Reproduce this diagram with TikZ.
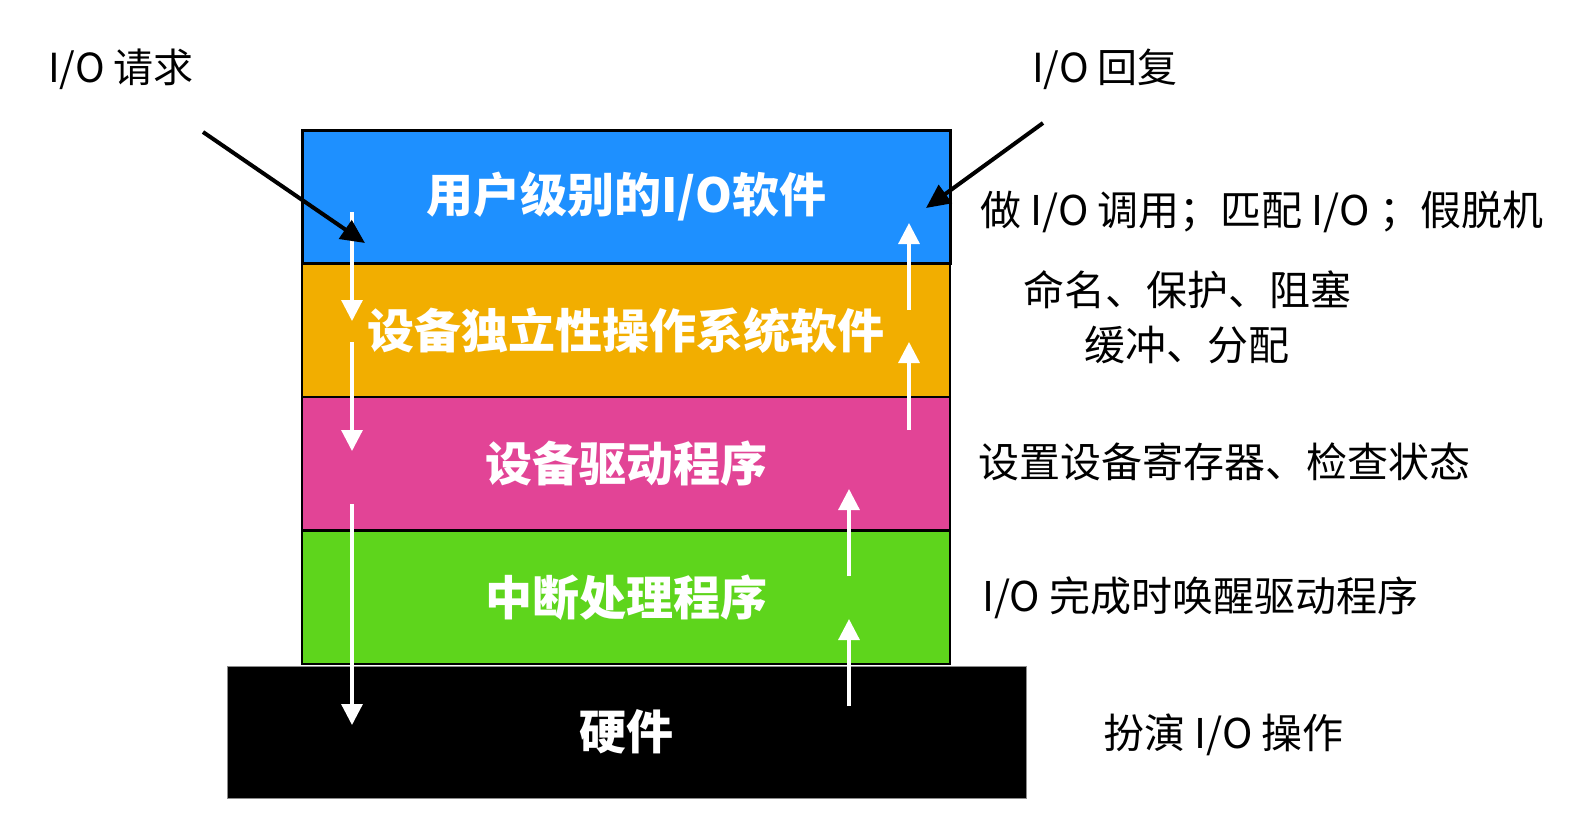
\documentclass[tikz,border=0pt]{standalone}
\usepackage{fontspec}
\setmainfont{Noto Sans CJK SC}
\usetikzlibrary{arrows.meta}
\definecolor{cblue}{RGB}{30,144,255}
\definecolor{corange}{RGB}{242,174,0}
\definecolor{cpink}{RGB}{226,68,150}
\definecolor{cgreen}{RGB}{94,213,28}
\begin{document}
\begin{tikzpicture}[x=1pt,y=-1pt,
  layer/.style={draw=black,line width=2.5pt,minimum width=648pt,minimum height=133.5pt,inner sep=0pt,
    text=white,font=\bfseries\fontsize{47}{56}\selectfont},
  hwbox/.style={draw=black!45,line width=0.8pt,fill=black,minimum width=799pt,minimum height=132pt,inner sep=0pt,
    text=white,font=\bfseries\fontsize{47}{56}\selectfont},
  toplbl/.style={anchor=west,inner sep=0pt,font=\fontsize{40}{48}\selectfont},
  sidelbl/.style={anchor=west,inner sep=0pt,font=\fontsize{41}{49}\selectfont},
  warrow/.style={draw=white,line width=3.2pt,-{Triangle[width=21pt,length=21pt]}},
  barrow/.style={draw=black,line width=4pt,-{Triangle[width=22pt,length=24pt]}}]
\useasboundingbox (0,0) rectangle (1586,838);
\fill[white] (0,0) rectangle (1586,838);
% layers
\node[hwbox] (hw) at (626.5,732) {硬件};
\node[layer,fill=cgreen] (intr) at (626,597.25) {中断处理程序};
\node[layer,fill=cpink] (driver) at (626,463.75) {设备驱动程序};
\node[layer,fill=corange] (indep) at (626,330.25) {设备独立性操作系统软件};
\node[layer,fill=cblue,line width=3pt] (user) at (626,196.75) {用户级别的I/O软件};
% white arrow coordinates
\coordinate (d1s) at (352,212); \coordinate (d1e) at (352,321);
\coordinate (d2s) at (352,342); \coordinate (d2e) at (352,451);
\coordinate (d3s) at (352,504); \coordinate (d3e) at (352,725);
\coordinate (u1s) at (849,706); \coordinate (u1e) at (849,619);
\coordinate (u2s) at (849,576); \coordinate (u2e) at (849,489);
\coordinate (u3s) at (909,430); \coordinate (u3e) at (909,342);
\coordinate (u4s) at (909,310); \coordinate (u4e) at (909,223);
\draw[warrow] (d1s) -- (d1e);
\draw[warrow] (d2s) -- (d2e);
\draw[warrow] (d3s) -- (d3e);
\draw[warrow] (u1s) -- (u1e);
\draw[warrow] (u2s) -- (u2e);
\draw[warrow] (u3s) -- (u3e);
\draw[warrow] (u4s) -- (u4e);
% black arrows
\coordinate (reqs) at (203,132); \coordinate (reqe) at (365,243);
\coordinate (reps) at (1043,123); \coordinate (repe) at (926,208);
\draw[barrow] (reqs) -- (reqe);
\draw[barrow] (reps) -- (repe);
% labels
\node[toplbl] (treq) at (48,69) {I/O 请求};
\node[toplbl] (trep) at (1032,69) {I/O 回复};
\node[sidelbl] (t1) at (980,212) {做 I/O 调用；匹配 I/O ；假脱机};
\node[sidelbl] (t2) at (1023,290) {命名、保护、阻塞};
\node[sidelbl] (t3) at (1084,345) {缓冲、分配};
\node[sidelbl] (t4) at (978,462) {设置设备寄存器、检查状态};
\node[sidelbl] (t5) at (982,598) {I/O 完成时唤醒驱动程序};
\node[sidelbl] (t6) at (1103,735) {扮演 I/O 操作};
\end{tikzpicture}
\end{document}
